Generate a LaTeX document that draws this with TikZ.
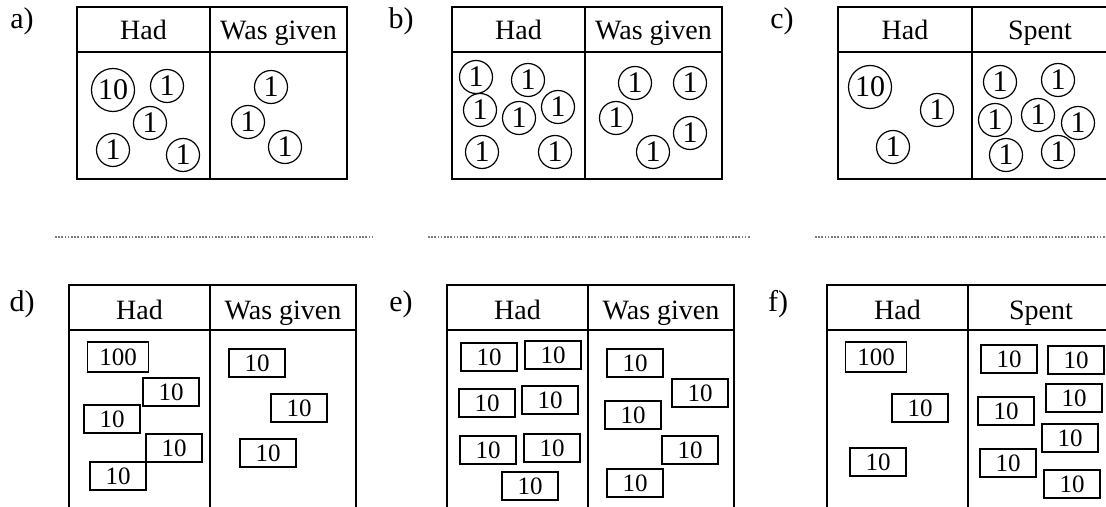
\documentclass[tikz,border=0pt]{standalone}
\usepackage{fontspec}
\setmainfont{Liberation Serif}
\usetikzlibrary{positioning}
\tikzset{
    x=0.5pt, y=-0.5pt, % one unit is one pixel of the layout, y runs down
    coin/.style={draw, circle, line width=0.6pt, inner sep=0pt, minimum size=16.5pt, font=\fontsize{15}{15}\selectfont}, % a one coin
    bigcoin/.style={coin, minimum size=21.5pt}, % a ten coin
    note/.style={draw, line width=0.6pt, inner sep=0pt, minimum width=28pt, minimum height=14pt, font=\fontsize{12.5}{12.5}\selectfont}, % a ten note
    bignote/.style={note, minimum width=30.5pt, minimum height=15pt}, % a hundred note
    head/.style={anchor=base, font=\fontsize{14}{14}\selectfont}, % column titles
    tag/.style={anchor=base, font=\fontsize{15}{15}\selectfont}, % a), b), ...
    frame/.style={line width=0.8pt},
    answer/.style={gray, line width=0.7pt, dash pattern=on 0.8pt off 0.8pt},
    }
\begin{document}
\begin{tikzpicture}
    \useasboundingbox (0,0) rectangle (1106,507);
    \clip (0,0) rectangle (1106,507);
    % top row of tables
    \foreach \l/\m/\r/\side/\p in {77/210/347/Was given/a, 452/585/722/Was given/b, 838/972/1108/Spent/c}{
        \draw[frame] (\l,7) rectangle (\r,179) (\l,52) -- (\r,52) (\m,7) -- (\m,179);
        \node[head] (had-\p) at ({(\l+\m)/2},40) {Had};
        \node[head] (side-\p) at ({(\m+\r)/2},40) {\side};
    }
    % bottom row of tables, open at the foot
    \foreach \l/\m/\r/\side/\p in {69/210/356/Was given/d, 447/588/734/Was given/e, 827/968/1114/Spent/f}{
        \draw[frame] (\l,507) -- (\l,285) -- (\r,285) -- (\r,507) (\l,330) -- (\r,330) (\m,285) -- (\m,507);
        \node[head] (had-\p) at ({(\l+\m)/2},319) {Had};
        \node[head] (side-\p) at ({(\m+\r)/2},319) {\side};
    }
    % task letters
    \foreach \p/\x/\y in {a/22/29, b/401/29, c/782/29, d/22/312, e/401/312, f/778/312}
        \node[tag] (tag-\p) at (\x,\y) {\p)};
    % lines for the answers
    \draw[answer] (55,237) -- (375,237) (428,237) -- (750,237) (815,237) -- (1106,237);

    % a)
    \node[bigcoin] (a-ten) at (113,90) {10};
    \foreach \x/\y [count=\i] in {167/86, 150/123, 113/150, 183/155}
        \node[coin] (a-had\i) at (\x,\y) {1};
    \foreach \x/\y [count=\i] in {271/87, 248/122, 285/147}
        \node[coin] (a-got\i) at (\x,\y) {1};
    % b)
    \foreach \x/\y [count=\i] in {476/77, 528/80, 480/110, 558/107, 519/118, 482/152, 555/152}
        \node[coin] (b-had\i) at (\x,\y) {1};
    \foreach \x/\y [count=\i] in {635/83, 690/83, 616/118, 690/133, 653/152}
        \node[coin] (b-got\i) at (\x,\y) {1};
    % c)
    \node[bigcoin] (c-ten) at (870,87) {10};
    \foreach \x/\y [count=\i] in {937/110, 893/147}
        \node[coin] (c-had\i) at (\x,\y) {1};
    \foreach \x/\y [count=\i] in {1000/82, 1058/80, 995/120, 1038/115, 1078/123, 1006/155, 1058/152}
        \node[coin] (c-out\i) at (\x,\y) {1};

    % d)
    \node[bignote] (d-hundred) at (118,357) {100};
    \foreach \x/\y [count=\i] in {171/392, 112/419, 174/448, 118/476}
        \node[note] (d-had\i) at (\x,\y) {10};
    \foreach \x/\y [count=\i] in {257/363, 299/408, 268/453}
        \node[note] (d-got\i) at (\x,\y) {10};
    % e)
    \foreach \x/\y [count=\i] in {489/357, 553/355, 487/403, 550/400, 488/450, 552/448, 530/486}
        \node[note] (e-had\i) at (\x,\y) {10};
    \foreach \x/\y [count=\i] in {635/363, 700/393, 633/415, 690/450, 635/483}
        \node[note] (e-got\i) at (\x,\y) {10};
    % f)
    \node[bignote] (f-hundred) at (876,357) {100};
    \foreach \x/\y [count=\i] in {920/408, 878/462}
        \node[note] (f-had\i) at (\x,\y) {10};
    \foreach \x/\y [count=\i] in {1009/359, 1076/360, 1074/398, 1006/411, 1070/438, 1008/463, 1072/484}
        \node[note] (f-out\i) at (\x,\y) {10};
\end{tikzpicture}
\end{document}
